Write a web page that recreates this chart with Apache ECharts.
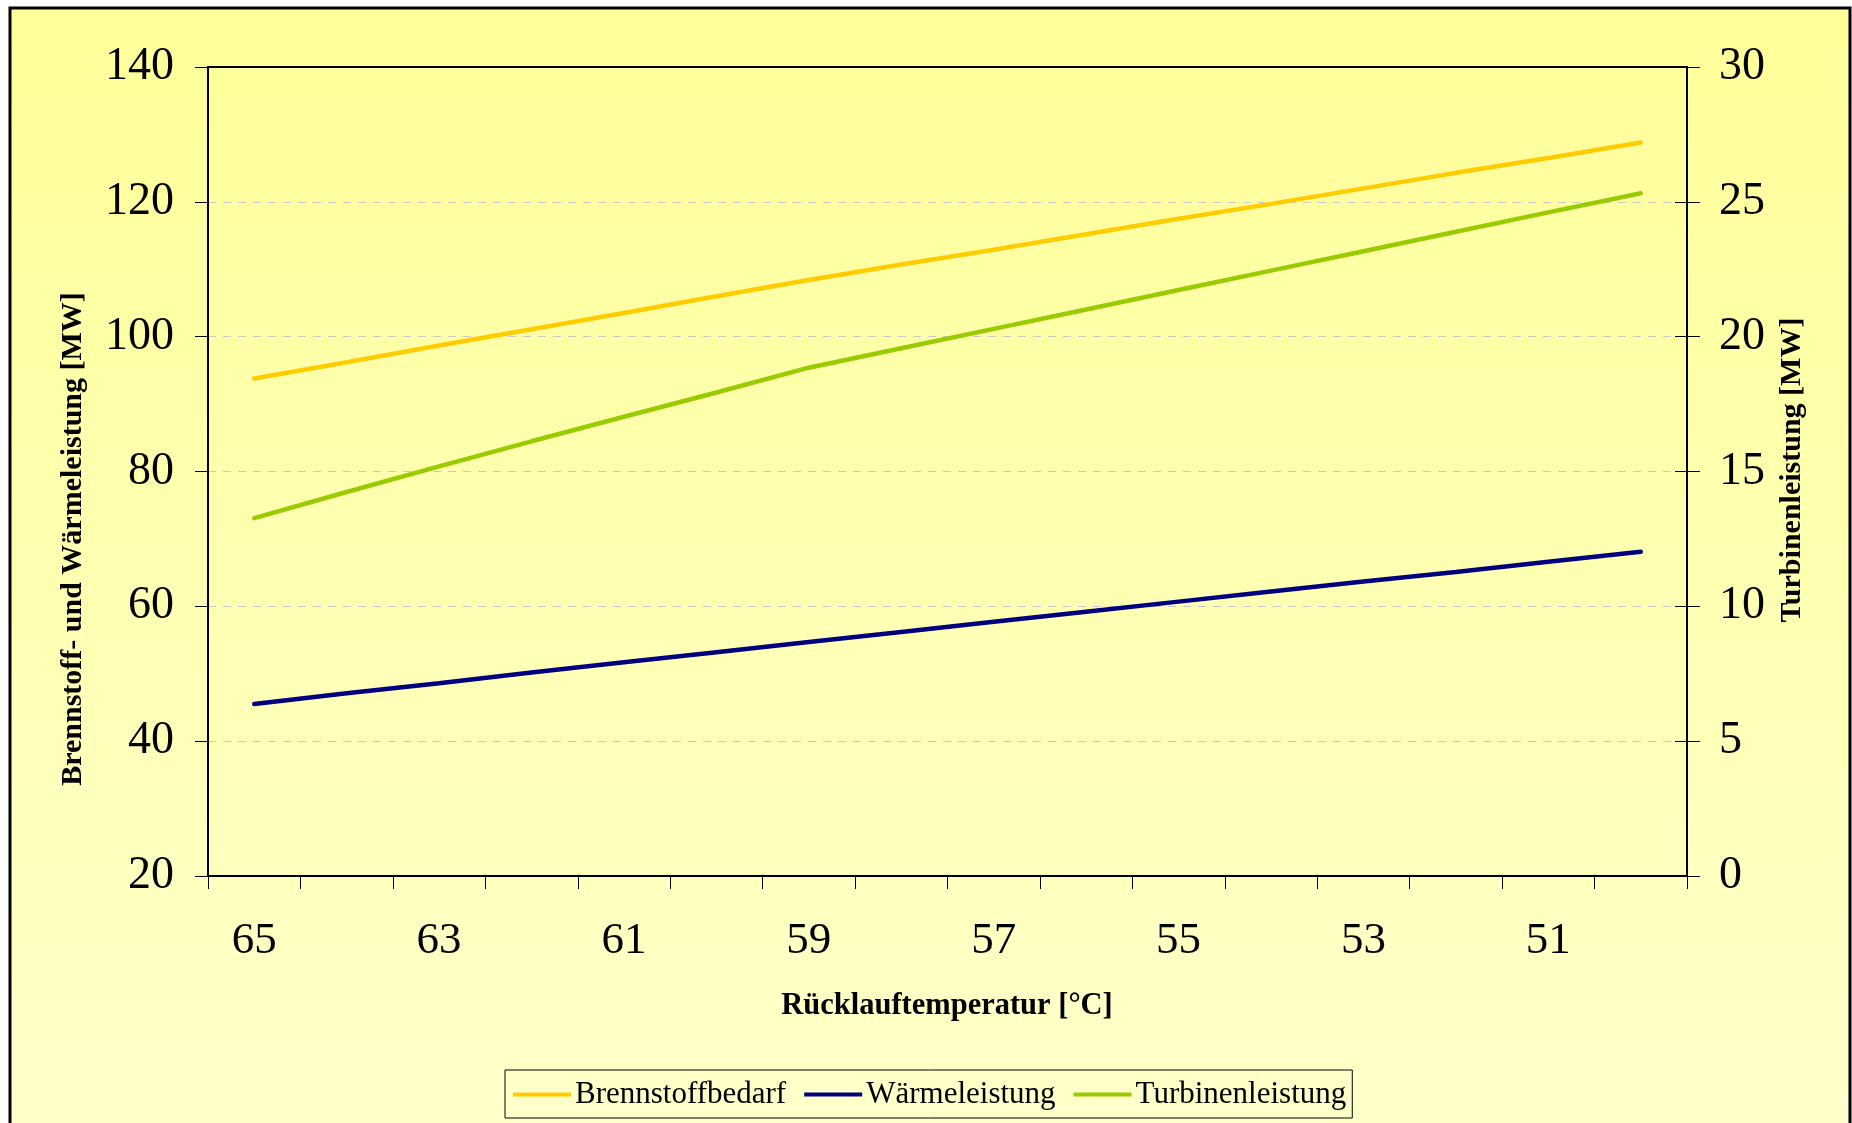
<!DOCTYPE html>
<html>
<head>
<meta charset="utf-8">
<script src="https://cdn.jsdelivr.net/npm/echarts@6/dist/echarts.min.js"></script>
<style>
html,body{margin:0;padding:0;background:#fff;}
#c{width:1852px;height:1123px;}
</style>
</head>
<body>
<div id="c"></div>
<script>
const categories = ['65','64','63','62','61','60','59','58','57','56','55','54','53','52','51','50'];
const brennstoffbedarf = [93.8, 96.2, 98.7, 101.1, 103.5, 106.0, 108.4, 110.7, 112.9, 115.2, 117.5, 119.7, 122.0, 124.3, 126.5, 128.8];
const waermeleistung = [45.5, 47.1, 48.6, 50.2, 51.7, 53.2, 54.7, 56.2, 57.7, 59.2, 60.7, 62.2, 63.7, 65.1, 66.6, 68.1];
const turbinenleistung = [13.27, 14.24, 15.19, 16.12, 17.03, 17.93, 18.85, 19.57, 20.29, 21.01, 21.73, 22.45, 23.17, 23.89, 24.61, 25.32];
const leftTicks = {min: 20, max: 140, interval: 20};
const rightTicks = {min: 0, max: 30, interval: 5};

const FONT = '"Liberation Serif", "Times New Roman", serif';
const chart = echarts.init(document.getElementById('c'));
const G = {left: 208, top: 67, right: 165, bottom: 247};

chart.setOption({
  animation: false,
  graphic: [
    {type: 'rect', z: -10, silent: true,
     shape: {x: 10, y: 8, width: 1840, height: 1140},
     style: {
       fill: new echarts.graphic.LinearGradient(0, 0, 0, 1, [
         {offset: 0, color: '#FFFF99'}, {offset: 1, color: '#FFFFCC'}]),
       stroke: '#000', lineWidth: 3}},
    {type: 'text', z: 10,
     x: 73, y: 539, rotation: Math.PI / 2,
     style: {text: 'Brennstoff- und Wärmeleistung [MW]', font: 'bold 30px ' + FONT,
             fill: '#000', textAlign: 'center', textVerticalAlign: 'middle'}},
    {type: 'text', z: 10,
     x: 1792, y: 470, rotation: Math.PI / 2,
     style: {text: 'Turbinenleistung [MW]', font: 'bold 30px ' + FONT,
             fill: '#000', textAlign: 'center', textVerticalAlign: 'middle'}},
    {type: 'text', z: 10,
     x: 947, y: 1006,
     style: {text: 'Rücklauftemperatur [°C]', font: 'bold 30.5px ' + FONT,
             fill: '#000', textAlign: 'center', textVerticalAlign: 'middle'}}
  ],
  grid: {left: G.left, top: G.top, right: G.right, bottom: G.bottom,
         show: true, borderColor: '#000', borderWidth: 2, backgroundColor: 'transparent'},
  legend: {
    left: 505, top: 1070,
    data: ['Brennstoffbedarf', 'Wärmeleistung', 'Turbinenleistung'],
    icon: 'rect', itemWidth: 58, itemHeight: 4, itemGap: 18,
    padding: [9, 6, 8, 8],
    borderColor: '#000', borderWidth: 1,
    backgroundColor: 'transparent',
    textStyle: {fontFamily: FONT, fontSize: 31, color: '#000', padding: [0, 0, 0, -1]}
  },
  xAxis: {
    type: 'category', data: categories, boundaryGap: true,
    axisLine: {lineStyle: {color: '#000', width: 2}},
    axisTick: {show: true, interval: 0, length: 13, lineStyle: {color: '#000', width: 1}},
    axisLabel: {interval: 1, margin: 43, fontFamily: FONT, fontSize: 45, color: '#000'},
    splitLine: {show: false}
  },
  yAxis: [
    {type: 'value', position: 'left', min: leftTicks.min, max: leftTicks.max, interval: leftTicks.interval,
     axisLine: {show: true, lineStyle: {color: '#000', width: 2}},
     axisTick: {show: true, length: 13, lineStyle: {color: '#000'}},
     axisLabel: {margin: 34, fontFamily: FONT, fontSize: 46, color: '#000'},
     splitLine: {show: true, showMinLine: false, showMaxLine: false,
                 lineStyle: {color: '#C8C8C8', width: 1, type: [8, 7]}}},
    {type: 'value', position: 'right', min: rightTicks.min, max: rightTicks.max, interval: rightTicks.interval,
     axisLine: {show: true, lineStyle: {color: '#000', width: 2}},
     axisTick: {show: true, length: 13, lineStyle: {color: '#000'}},
     axisLabel: {margin: 32, fontFamily: FONT, fontSize: 46, color: '#000'},
     splitLine: {show: false}},
    {type: 'value', position: 'right', min: rightTicks.min, max: rightTicks.max, interval: rightTicks.interval,
     axisLine: {show: false},
     axisTick: {show: true, inside: true, length: 12, lineStyle: {color: '#000'}},
     axisLabel: {show: false},
     splitLine: {show: false}}
  ],
  series: [
    {name: 'Brennstoffbedarf', type: 'line', yAxisIndex: 0, data: brennstoffbedarf,
     symbol: 'none', itemStyle: {color: '#FFCC00'},
     lineStyle: {color: '#FFCC00', width: 4.5, cap: 'round'}},
    {name: 'Wärmeleistung', type: 'line', yAxisIndex: 0, data: waermeleistung,
     symbol: 'none', itemStyle: {color: '#000080'},
     lineStyle: {color: '#000080', width: 4.5, cap: 'round'}},
    {name: 'Turbinenleistung', type: 'line', yAxisIndex: 1, data: turbinenleistung,
     symbol: 'none', itemStyle: {color: '#99CC00'},
     lineStyle: {color: '#99CC00', width: 4.5, cap: 'round'}}
  ]
});
</script>
</body>
</html>
